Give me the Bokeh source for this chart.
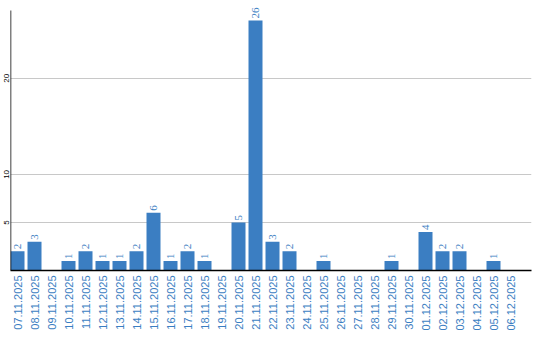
import math
from bokeh.plotting import figure
from bokeh.models import ColumnDataSource, LabelSet, FixedTicker, Range1d
from bokeh.embed import file_html
from bokeh.resources import INLINE

dates = ["07.11.2025", "08.11.2025", "09.11.2025", "10.11.2025", "11.11.2025",
         "12.11.2025", "13.11.2025", "14.11.2025", "15.11.2025", "16.11.2025",
         "17.11.2025", "18.11.2025", "19.11.2025", "20.11.2025", "21.11.2025",
         "22.11.2025", "23.11.2025", "24.11.2025", "25.11.2025", "26.11.2025",
         "27.11.2025", "28.11.2025", "29.11.2025", "30.11.2025", "01.12.2025",
         "02.12.2025", "03.12.2025", "04.12.2025", "05.12.2025", "06.12.2025"]
counts = [2, 3, 0, 1, 2, 1, 1, 2, 6, 1, 2, 1, 0, 5, 26, 3, 2, 0, 1, 0,
          0, 0, 1, 0, 4, 2, 2, 0, 1, 0]
y_ticks = [5, 10, 20]

BLUE = "#3b7ec2"
FONT = "Liberation Sans"
X_START, X_END = -0.412, 30.235
Y_AXIS_TOP = 27.05
Y_END = 28.09

idx = list(range(len(dates)))
src = ColumnDataSource(dict(x=idx, top=counts))
lab_x = [i for i, c in zip(idx, counts) if c > 0]
lab_y = [c for c in counts if c > 0]
lab_t = [str(c) for c in counts if c > 0]
lab_src = ColumnDataSource(dict(x=lab_x, y=lab_y, t=lab_t))

p = figure(width=540, height=340, output_backend="svg", toolbar_location=None,
           x_range=Range1d(X_START, X_END), y_range=Range1d(0, Y_END),
           min_border_left=10, min_border_right=9, min_border_top=0,
           min_border_bottom=70, outline_line_color=None,
           background_fill_color="white", border_fill_color="white")

p.ygrid.ticker = FixedTicker(ticks=y_ticks)
p.ygrid.grid_line_color = "#c8c8c8"
p.ygrid.grid_line_width = 1
p.xgrid.grid_line_color = None

p.vbar(x="x", top="top", bottom=0, width=14 / 17, source=src,
       fill_color=BLUE, line_color=None)

# left axis line (runs only to the top of the value area)
p.segment(x0=[X_START], y0=[0], x1=[X_START], y1=[Y_AXIS_TOP],
          line_color="black", line_width=1.5)

p.add_layout(LabelSet(x="x", y="y", text="t", source=lab_src, angle=math.pi / 2,
                      text_align="left", text_baseline="middle", y_offset=2,
                      text_color=BLUE, text_font_size="11px", text_font=FONT))

# x axis
xa = p.xaxis[0]
xa.ticker = FixedTicker(ticks=idx)
xa.major_label_overrides = {i: d for i, d in zip(idx, dates)}
xa.major_label_orientation = math.pi / 2
xa.major_label_text_color = BLUE
xa.major_label_text_font_size = "11px"
xa.major_label_text_font = FONT
xa.major_label_standoff = 5
xa.major_tick_line_color = None
xa.major_tick_out = 0
xa.major_tick_in = 0
xa.minor_tick_line_color = None
xa.minor_tick_out = 0
xa.axis_line_color = "black"
xa.axis_line_width = 1.5

# y axis
ya = p.yaxis[0]
ya.ticker = FixedTicker(ticks=y_ticks)
ya.major_label_orientation = "vertical"
ya.major_label_text_color = "black"
ya.major_label_text_font_size = "8px"
ya.major_label_text_font = FONT
ya.major_label_standoff = 1
ya.major_tick_line_color = None
ya.major_tick_out = 0
ya.major_tick_in = 0
ya.minor_tick_line_color = None
ya.minor_tick_out = 0
ya.axis_line_color = None

open("out.html", "w").write(file_html(p, INLINE))
